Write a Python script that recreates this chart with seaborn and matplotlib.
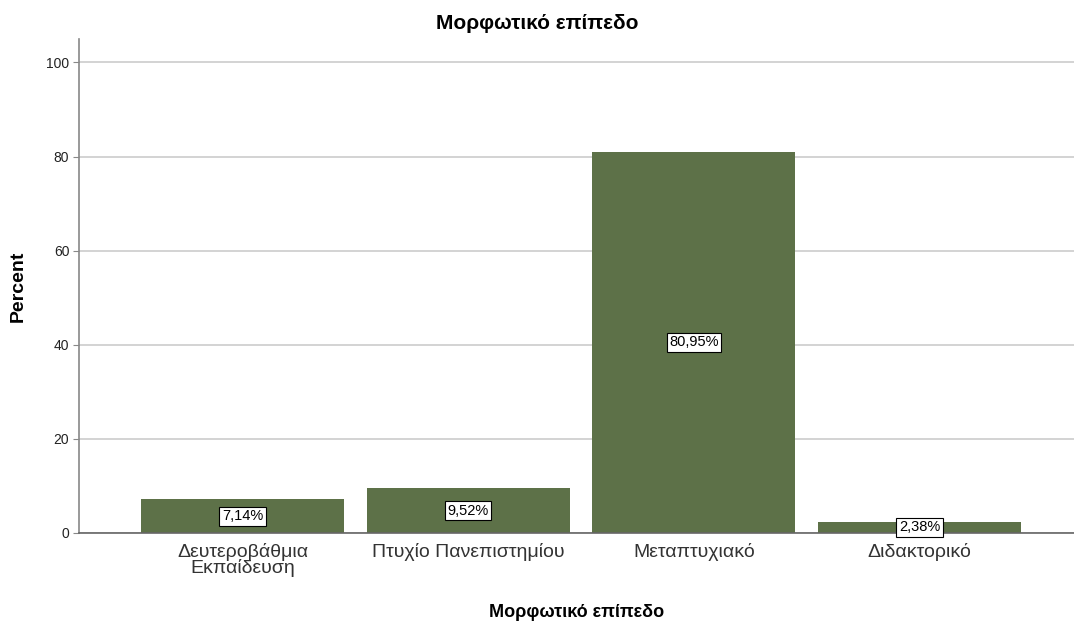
import matplotlib
matplotlib.use("Agg")
import matplotlib.pyplot as plt
import seaborn as sns
import pandas as pd

categories = ["Δευτεροβάθμια\nΕκπαίδευση", "Πτυχίο Πανεπιστημίου", "Μεταπτυχιακό", "Διδακτορικό"]
percent = [7.14, 9.52, 80.95, 2.38]
value_labels = ["7,14%", "9,52%", "80,95%", "2,38%"]
yticks = [0, 20, 40, 60, 80, 100]

sns.set_style("white")
plt.rcParams["font.family"] = ["Liberation Sans", "DejaVu Sans"]

df = pd.DataFrame({"level": categories, "pct": percent})

fig = plt.figure(figsize=(10.74, 6.27), dpi=100)
ax = fig.add_axes([0.0736, 0.15, 0.9264, 0.788])

sns.barplot(data=df, x="level", y="pct", color="#5d7148", saturation=1,
            width=0.9, edgecolor="#5d7148", linewidth=0, ax=ax, zorder=2)

for i, (v, lab) in enumerate(zip(percent, value_labels)):
    ax.text(i, v / 2, lab, ha="center", va="center", fontsize=10.5, color="black",
            bbox=dict(boxstyle="square,pad=0.18", fc="white", ec="black", lw=0.8),
            zorder=4)

ax.set_xlim(-0.724, 3.684)
ax.set_ylim(0, 105)
ax.set_yticks(yticks)
ax.yaxis.grid(True, color="#cccccc", lw=1.2, zorder=0)
ax.set_axisbelow(True)

for s in ["top", "right"]:
    ax.spines[s].set_visible(False)
ax.spines["left"].set_color("#888888")
ax.spines["left"].set_linewidth(1.2)
ax.spines["bottom"].set_color("#666666")
ax.spines["bottom"].set_linewidth(1.2)

ax.tick_params(axis="y", left=True, length=4, color="#888888", labelsize=10,
               labelcolor="#222222", pad=3)
ax.tick_params(axis="x", bottom=False, labelsize=14, labelcolor="#333333", pad=4)
for t in ax.get_xticklabels():
    t.set_linespacing(0.8)

ax.set_xlabel("Μορφωτικό επίπεδο", fontsize=13, fontweight="bold", labelpad=20,
              color="black")
ax.set_ylabel("Percent", fontsize=14, fontweight="bold", labelpad=14, color="black")
fig.suptitle("Μορφωτικό επίπεδο", x=0.5, y=0.978, va="top", fontsize=15,
             fontweight="bold", color="black")

fig.savefig("out.png", dpi=100)
